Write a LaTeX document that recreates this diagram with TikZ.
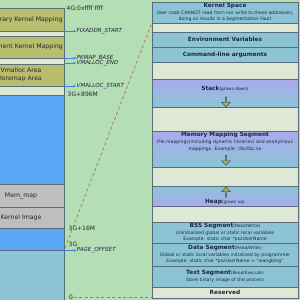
\documentclass[tikz,border=0pt]{standalone}
\usepackage{fontspec}
\setmainfont{DejaVu Sans}
\usetikzlibrary{arrows.meta,shapes.arrows}
\definecolor{vmgreen}{RGB}{180,222,179}
\definecolor{vmolive}{RGB}{184,190,110}
\definecolor{vmstrip}{RGB}{222,232,212}
\definecolor{vmblue}{RGB}{90,168,245}
\definecolor{vmgray}{RGB}{190,190,190}
\definecolor{vmteal}{RGB}{140,196,214}
\definecolor{vmlav}{RGB}{170,170,238}
\definecolor{vmedge}{RGB}{88,108,122}
\definecolor{vmdash}{RGB}{176,122,100}
\definecolor{vmarrow}{RGB}{66,128,222}
\definecolor{vmtext}{RGB}{28,38,66}
\definecolor{vmblock}{RGB}{166,180,92}
\newcommand{\segname}[2]{{\fontsize{5.8}{7}\selectfont\bfseries #1}{\fontsize{4.3}{5}\selectfont #2}}

\begin{document}
\begin{tikzpicture}[x=1pt,y=-1pt,
  seg/.style={draw=vmedge, line width=0.7pt},
  kbox/.style={seg, minimum width=86pt, inner sep=0pt, align=center, text=black!85,
    font=\fontsize{6.2}{8.3}\selectfont},
  ubox/.style={seg, fill=vmteal, minimum width=146pt, inner sep=0pt, align=center, text=vmtext,
    font=\fontsize{4.6}{6.5}\selectfont},
  addr/.style={font=\fontsize{6}{6}\selectfont, text=black!85, anchor=west, inner sep=0.5pt},
  sym/.style={font=\fontsize{5.6}{6}\selectfont\itshape, text=vmtext, anchor=west, inner sep=0.5pt},
  pointer/.style={vmarrow, line width=0.6pt, -{Stealth[length=2.6pt,width=2.6pt]}},
  split/.style={vmdash, line width=0.8pt, dash pattern=on 3pt off 2.5pt},
  growarrow/.style={single arrow, draw=vmedge!80!black, fill=vmblock, line width=0.5pt, inner sep=0pt,
    minimum width=9pt, minimum height=10pt, single arrow head extend=1.5pt}]
\useasboundingbox (0,0) rectangle (300,300);
\clip (0,0) rectangle (300,300);
\fill[vmgreen] (0,0) rectangle (300,300);

% kernel view (left column)
\draw[seg, fill=vmstrip] (-22,8) rectangle (64,305);
\node[kbox, fill=vmolive, minimum height=23pt] (tmpk) at (21,19.5) {Temporary Kernel Mapping};
\node[kbox, fill=vmolive, minimum height=22pt] (permk) at (21,47) {Permanent Kernel Mapping};
\node[kbox, fill=vmolive, minimum height=22pt] (vmal) at (21,75) {Vmalloc Area\\Ioremap Area};
\node[kbox, fill=vmblue, minimum height=89pt] (lowmem) at (21,139.5) {};
\node[kbox, fill=vmgray, minimum height=23pt] (memmap) at (21,195.5) {Mem\_map};
\node[kbox, fill=vmgray, minimum height=21pt] (kimg) at (21,217.5) {Kernel Image};
\node[kbox, fill=vmblue, minimum height=22pt] (dma) at (21,239) {};
\node[kbox, fill=vmteal, minimum height=55pt] (ulow) at (21,277.5) {};

% addresses
\node[addr] (top4g) at (66,8.5) {4G:0xffff ffff};
\node[addr] (at896) at (67,94.5) {3G+896M};
\node[addr] (at16) at (68,228) {3G+16M};
\node[addr] (at3g) at (68,244) {3G};
\node[addr] (zero) at (68.5,297.5) {0};

% symbols with pointers
\coordinate (fixa) at (64,31);
\coordinate (pkma) at (64,58);
\coordinate (vmea) at (64,63);
\coordinate (vmsa) at (64,86);
\coordinate (pgoa) at (64,250.5);
\node[sym] (fixaddr) at (76,31) {FIXADDR\_START};
\node[sym] (pkmap) at (76,58) {PKMAP\_BASE};
\node[sym] (vmend) at (76,63) {VMALLOC\_END};
\node[sym] (vmstart) at (76,86) {VMALLOC\_START};
\node[sym] (pgoff) at (76,250.5) {PAGE\_OFFSET};
\draw[pointer] (fixa) -- (fixaddr);
\draw[pointer] (pkma) -- (pkmap);
\draw[pointer] (vmea) -- (vmend);
\draw[pointer] (vmsa) -- (vmstart);
\draw[pointer] (pgoa) -- (pgoff);

% process view (right panel)
\draw[seg, fill=vmstrip] (152,2) rectangle (298,298);
\node[ubox, minimum height=21pt] (kspace) at (225,12.5)
  {\segname{Kernel Space}{}\\User code CANNOT read from nor write to these addresses,\\doing so results in a Segmentation Fault};
\node[ubox, minimum height=15pt] (env) at (225,39.5) {\segname{Environment Variables}{}};
\node[ubox, minimum height=15pt] (args) at (225,54.5) {\segname{Command-line arguments}{}};
\node[ubox, top color=vmlav, bottom color=vmteal, minimum height=28pt] (stack) at (225,93) {};
\node[ubox, top color=vmlav, bottom color=vmteal, minimum height=36pt] (mmap) at (225,149) {};
\node[ubox, top color=vmteal, bottom color=vmlav, minimum height=20pt] (heap) at (225,196) {};
\node[ubox, minimum height=21pt] (bss) at (225,232.5)
  {\segname{BSS Segment}{(Read/Write)}\\Uninitialized global or static local variables\\Example: static char *pszUserName};
\node[ubox, minimum height=23pt] (data) at (225,254.5)
  {\segname{Data Segment}{(Read/Write)}\\Global or static local variables initialized by programmer\\Example: static char *pszUserName = "wangbing"};
\node[ubox, minimum height=21pt] (txtseg) at (225,276.5)
  {\segname{Text Segment}{(Read/Execute)}\\Store binary image of the process};
\node[ubox, fill=vmstrip, minimum height=11pt] (rsvd) at (225,292.5) {\segname{Reserved}{}};

% growing regions
\node[text=vmtext, inner sep=0pt] (stackt) at (225,89) {\segname{Stack}{(grows down)}};
\node[growarrow, shape border rotate=270] (stackg) at (226,101.5) {};
\node[text=vmtext, inner sep=0pt, align=center, font=\fontsize{4.6}{6.8}\selectfont] (mmapt) at (225,142)
  {\segname{Memory Mapping Segment}{}\\File mappings(including dynamic libraries) and anonymous\\mappings. Example: /lib/libc.so};
\node[growarrow, shape border rotate=270] (mmapg) at (226,160) {};
\node[growarrow, shape border rotate=90] (heapg) at (226,192.5) {};
\node[text=vmtext, inner sep=0pt] (heapt) at (225,202) {\segname{Heap}{(grows up)}};

% user space boundaries
\coordinate (ktop) at (65,248);
\draw[split] (ktop) -- (kspace.south west);
\draw[split] (zero.east) -- (zero.east -| rsvd.west);
\end{tikzpicture}
\end{document}
